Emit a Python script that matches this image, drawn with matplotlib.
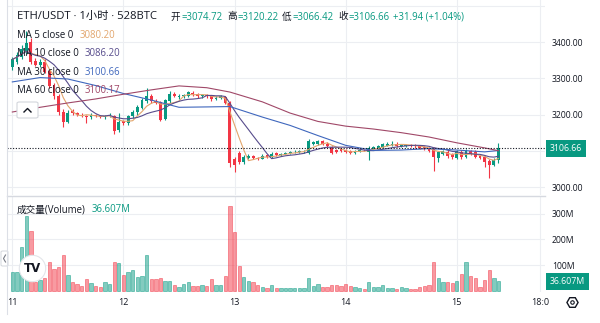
import numpy as np
import pandas as pd
import matplotlib
matplotlib.use('Agg')
import matplotlib.pyplot as plt
from matplotlib.patches import FancyBboxPatch
from matplotlib.lines import Line2D

plt.rcParams['font.family'] = ['Open Sans', 'Noto Sans CJK SC', 'DejaVu Sans']

# ETH/USDT 1小时K线：11日 00:00 到 15日 09:00
opens = [3330, 3345, 3358, 3374, 3400, 3348, 3336, 3346, 3320, 3282, 3250, 3206, 3180, 3210, 3204, 3200, 3197, 3192, 3199, 3196, 3192, 3196, 3195, 3156,
         3182, 3176, 3195, 3208, 3218, 3238, 3250, 3238, 3234, 3188, 3236, 3258, 3248, 3250, 3252, 3260, 3257, 3250, 3254, 3252, 3243, 3246, 3248,
         3232, 3078, 3095, 3068, 3080, 3086, 3081, 3078, 3087, 3083, 3094, 3088, 3092, 3094, 3096, 3097, 3096, 3094, 3118, 3118, 3126, 3120, 3110, 3102, 3104,
         3103, 3100, 3094, 3098, 3103, 3098, 3104, 3106, 3110, 3114, 3116, 3120, 3112, 3113, 3116, 3115, 3114, 3110, 3108, 3106, 3080, 3090, 3098, 3090,
         3080, 3098, 3084, 3100, 3098, 3085, 3082, 3072, 3060, 3074.72]
highs = [3358, 3372, 3392, 3430, 3412, 3356, 3352, 3352, 3326, 3288, 3256, 3214, 3212, 3214, 3208, 3204, 3200, 3203, 3202, 3199, 3200, 3203, 3198, 3205,
         3186, 3200, 3212, 3225, 3245, 3274, 3256, 3242, 3238, 3244, 3266, 3262, 3256, 3258, 3266, 3264, 3260, 3256, 3258, 3255, 3250, 3253, 3252,
         3238, 3084, 3100, 3088, 3090, 3089, 3084, 3090, 3090, 3096, 3097, 3095, 3098, 3099, 3101, 3102, 3101, 3132, 3126, 3130, 3130, 3124, 3114, 3106, 3107,
         3106, 3103, 3103, 3104, 3106, 3112, 3113, 3115, 3121, 3123, 3128, 3123, 3119, 3119, 3119, 3118, 3117, 3113, 3111, 3110, 3100, 3103, 3101, 3093,
         3103, 3101, 3104, 3103, 3101, 3088, 3085, 3076, 3080, 3120.22]
lows = [3322, 3340, 3352, 3368, 3340, 3334, 3330, 3314, 3274, 3244, 3200, 3165, 3176, 3199, 3196, 3192, 3178, 3189, 3192, 3190, 3189, 3193, 3145, 3152,
        3170, 3172, 3190, 3200, 3214, 3232, 3232, 3228, 3182, 3184, 3232, 3248, 3244, 3246, 3249, 3252, 3246, 3246, 3247, 3238, 3240, 3242, 3228,
        3055, 3041, 3064, 3064, 3076, 3077, 3074, 3076, 3080, 3081, 3085, 3086, 3090, 3092, 3094, 3095, 3093, 3092, 3115, 3116, 3117, 3110, 3092, 3095, 3097,
        3094, 3091, 3092, 3096, 3099, 3075, 3101, 3104, 3108, 3112, 3114, 3111, 3110, 3111, 3110, 3109, 3105, 3101, 3097, 3045, 3068, 3087, 3080, 3078,
        3077, 3078, 3080, 3088, 3079, 3076, 3055, 3025, 3057, 3066.42]
closes = [3352, 3365, 3382, 3398, 3345, 3338, 3346, 3318, 3280, 3250, 3206, 3180, 3205, 3204, 3199, 3196, 3193, 3199, 3195, 3192, 3197, 3200, 3155, 3180,
          3176, 3196, 3208, 3220, 3240, 3250, 3236, 3232, 3186, 3240, 3258, 3250, 3252, 3254, 3262, 3256, 3250, 3253, 3250, 3243, 3247, 3250, 3232,
          3066, 3060, 3070, 3082, 3086, 3080, 3078, 3086, 3083, 3092, 3088, 3092, 3095, 3097, 3098, 3100, 3098, 3128, 3123, 3126, 3120, 3113, 3095, 3098, 3100,
          3097, 3094, 3100, 3101, 3101, 3108, 3110, 3112, 3118, 3120, 3120, 3114, 3116, 3116, 3113, 3112, 3108, 3104, 3100, 3082, 3098, 3100, 3085, 3082,
          3100, 3082, 3100, 3092, 3082, 3080, 3070, 3062, 3075, 3106.66]
# 成交量，单位 M
volumes = [74, 74, 171, 292, 234, 35, 40, 48, 113, 84, 91, 140, 62, 34, 26, 19, 45, 32, 19, 16, 35, 26, 112, 109,
           62, 71, 82, 55, 57, 139, 45, 47, 49, 38, 38, 22, 16, 27, 34, 19, 19, 22, 18, 47, 23, 23, 56,
           331, 230, 96, 55, 39, 35, 22, 16, 9, 22, 9, 9, 9, 9, 9, 9, 12, 49, 19, 27, 15, 15, 23, 23, 19,
           25, 20, 13, 9, 7, 33, 16, 13, 23, 12, 9, 7, 13, 12, 8, 7, 15, 20, 23, 110, 49, 35, 35, 32,
           39, 67, 110, 59, 49, 13, 40, 79, 49, 36.607]

# MA30 / MA60 点
ma_idx = [0, 6, 12, 18, 24, 30, 36, 42, 47, 54, 60, 66, 72, 78, 84, 90, 96, 102, 105]
ma30_vals = [3290, 3302, 3298, 3280, 3258, 3240, 3220, 3221, 3222, 3193, 3170, 3142, 3115, 3101, 3102, 3106, 3102, 3097, 3100.66]
ma60_vals = [3207, 3220, 3232, 3243, 3256, 3268, 3279, 3274, 3262, 3235, 3204, 3181, 3168, 3160, 3150, 3138, 3122, 3108, 3100.17]

day_ticks = [0, 24, 48, 72, 96, 114]
day_labels = ['11', '12', '13', '14', '15', '18:0']
price_ticks = [3000, 3100, 3200, 3300, 3400, 3500]
price_labels = ['3000.00', '', '3200.00', '3300.00', '3400.00', '']
vol_ticks = [100, 200, 300]
vol_labels = ['100M', '200M', '300M']

ma_names = ['MA 5 close 0', 'MA 10 close 0', 'MA 30 close 0', 'MA 60 close 0']
ma_last = ['3080.20', '3086.20', '3100.66', '3100.17']
ohlc_names = ['开', '高', '低', '收']
ohlc_last = ['3074.72', '3120.22', '3066.42', '3106.66']
change_text = '+31.94 (+1.04%)'
vol_last = '36.607M'

UP = '#089981'
DOWN = '#f23645'
MA_COLORS = ['#e2a56c', '#574c8c', '#3f67bd', '#a04868']
GRID = '#eceef2'
TEXT = '#131722'

W, H = 600, 323
fig = plt.figure(figsize=(6, 3.23), dpi=100)
renderer = fig.canvas.get_renderer()


def fx(x):
    return x / W


def fy(y):
    return 1 - y / H


def px_axes(x0, y0, x1, y1):
    return fig.add_axes([fx(x0), fy(y1), (x1 - x0) / W, (y1 - y0) / H])


def label(xp, yp, s, color=TEXT, size=6.9):
    # 放一段文字，返回其右端的像素 x
    t = fig.text(fx(xp), fy(yp), s, fontsize=size, color=color, va='center')
    return t.get_window_extent(renderer).x1


ax = px_axes(7, 0, 545, 195)
axv = px_axes(7, 196, 545, 292)

x = np.arange(len(closes))
o = np.array(opens)
c = np.array(closes)
up = c >= o
colors = np.where(up, UP, DOWN)

# 蜡烛
ax.vlines(x, lows, highs, colors=colors, lw=0.8, zorder=2)
body = np.maximum(np.abs(c - o), 0.9)
ax.bar(x, body, bottom=np.minimum(o, c), width=0.62, color=colors, lw=0, zorder=2)

# 均线
cs = pd.Series(closes)
ax.plot(x, cs.rolling(5, min_periods=1).mean(), color=MA_COLORS[0], lw=0.8, zorder=3)
ax.plot(x, cs.rolling(10, min_periods=1).mean(), color=MA_COLORS[1], lw=0.8, zorder=3)
ax.plot(ma_idx, ma30_vals, color=MA_COLORS[2], lw=0.8, zorder=3)
ax.plot(ma_idx, ma60_vals, color=MA_COLORS[3], lw=0.8, zorder=3)

ax.axhline(closes[-1], color=TEXT, lw=0.8, ls=(0, (1, 1.5)), zorder=4)

# 成交量
vcol = [matplotlib.colors.to_rgba(col, 0.5) for col in colors]
vedge = [matplotlib.colors.to_rgba(col, 0.65) for col in colors]
axv.bar(x, volumes, width=0.72, color=vcol, edgecolor=vedge, lw=0.5, zorder=2)

for a in (ax, axv):
    a.set_xlim(-1.15, 115.05)
    a.set_xticks(day_ticks)
    a.grid(True, color=GRID, lw=0.8, zorder=0)
    a.yaxis.tick_right()
    a.tick_params(length=0, labelsize=6.2, colors=TEXT, pad=5)
    for s in a.spines.values():
        s.set_visible(False)

ax.set_ylim(2978, 3516)
ax.set_yticks(price_ticks)
ax.set_yticklabels(price_labels)
ax.set_xticklabels([])

axv.set_ylim(-5, 369)
axv.set_yticks(vol_ticks)
axv.set_yticklabels(vol_labels)
axv.set_xticklabels(day_labels)
axv.tick_params(axis='x', labelsize=6.5, pad=4)

# 右侧价格标签
ax.text(1 + 5 / 538, closes[-1], ohlc_last[3], transform=ax.get_yaxis_transform(),
        ha='left', va='center', fontsize=6.3, color='white', zorder=6, clip_on=False,
        bbox=dict(boxstyle='square,pad=0.45', fc=UP, ec=UP, lw=0))
axv.text(1 + 5 / 538, volumes[-1], vol_last, transform=axv.get_yaxis_transform(),
         ha='left', va='center', fontsize=6.3, color='white', zorder=6, clip_on=False,
         bbox=dict(boxstyle='square,pad=0.45', fc=UP, ec=UP, lw=0))

# 分隔线与边框
fig.add_artist(Line2D([fx(7), fx(545)], [fy(195.5), fy(195.5)], color='#d6d9e0', lw=1))
fig.add_artist(Line2D([fx(7), fx(7)], [fy(0), fy(314)], color='#dcdfe6', lw=0.8))

# 标题
label(17, 17, 'ETH/USDT · 1小时 · 528BTC', size=8.1)
name_x = [171, 227, 282, 338]
for nm, v, nx in zip(ohlc_names, ohlc_last, name_x):
    end = label(nx, 17, nm)
    label(end + 0.5, 17, '=' + v, color=UP)
label(393, 17, change_text, color=UP)

# 均线图例
ma_y = [36, 54, 73, 91]
for nm, v, yy, col in zip(ma_names, ma_last, ma_y, MA_COLORS):
    end = label(17, yy, nm)
    label(end + 6, yy, v, color=col)

# 折叠按钮
fig.add_artist(FancyBboxPatch((fx(17), fy(118)), 21 / W, 16 / H, transform=fig.transFigure,
                              boxstyle='round,pad=0,rounding_size=0.004', fc='white', ec='#d3d6dc', lw=0.8))
fig.add_artist(Line2D([fx(24), fx(27.5), fx(31)], [fy(112), fy(108.5), fy(112)], color=TEXT, lw=1))

# 成交量标题
end = label(17, 210, '成交量(Volume)')
label(end + 6, 210, vol_last, color=UP)

# TradingView 标志
fig.add_artist(Line2D([fx(32)], [fy(268)], marker='o', markersize=19, mfc='white', mec='#e3e5ea', mew=0.8))
fig.text(fx(32), fy(268), 'TV', fontsize=8.5, fontweight='bold', color=TEXT, ha='center', va='center',
         family='DejaVu Sans')

# 左侧小标签
fig.add_artist(FancyBboxPatch((fx(1), fy(266)), 7 / W, 15 / H, transform=fig.transFigure,
                              boxstyle='round,pad=0,rounding_size=0.003', fc='white', ec='#d3d6dc', lw=0.7))
fig.add_artist(Line2D([fx(5.5), fx(3.5), fx(5.5)], [fy(255), fy(258.5), fy(262)], color='#787b86', lw=0.8))

# 设置图标
fig.add_artist(Line2D([fx(572)], [fy(302)], marker='H', markersize=8, mfc='none', mec=TEXT, mew=1))
fig.add_artist(Line2D([fx(572)], [fy(302)], marker='o', markersize=2.5, mfc='none', mec=TEXT, mew=0.8))

fig.savefig('out.png', dpi=100)
